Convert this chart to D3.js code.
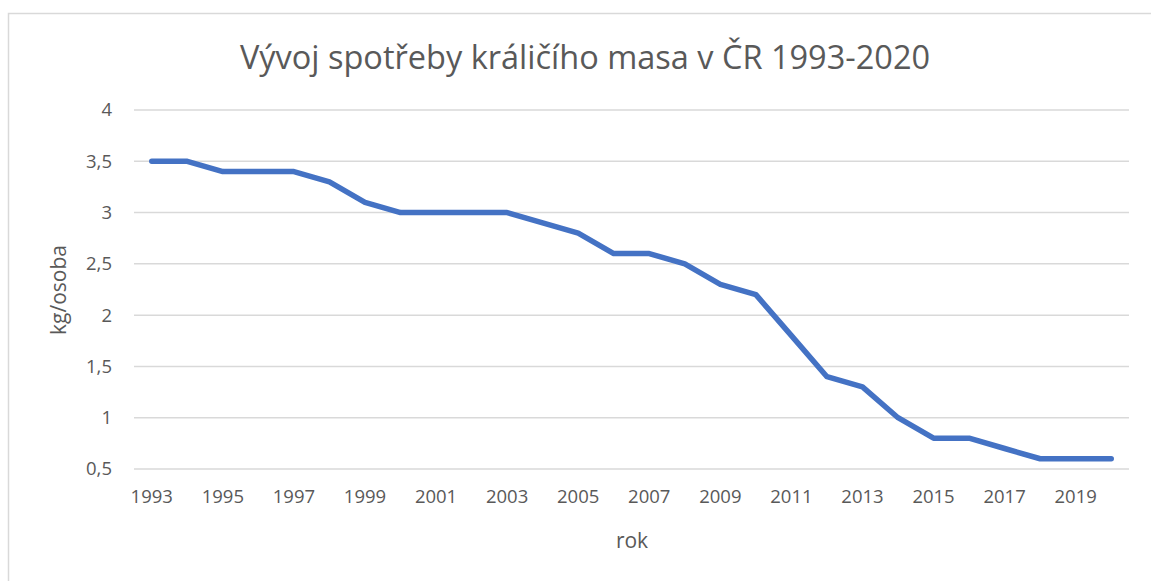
<!DOCTYPE html>
<html>
<head>
<meta charset="utf-8">
<script src="https://cdn.jsdelivr.net/npm/d3@7"></script>
<style>
	body { margin: 0; background: #fff; }
	text { font-family: 'Open Sans', sans-serif; fill: #595959; }
</style>
</head>
<body>
<div id="chart"></div>
<script>
// spotřeba králičího masa, kg/osoba
const years = d3.range(1993, 2021);
const values = [3.5, 3.5, 3.4, 3.4, 3.4, 3.3, 3.1, 3.0, 3.0, 3.0, 3.0, 2.9, 2.8, 2.6,
	2.6, 2.5, 2.3, 2.2, 1.8, 1.4, 1.3, 1.0, 0.8, 0.8, 0.7, 0.6, 0.6, 0.6];
const yTicks = [0.5, 1, 1.5, 2, 2.5, 3, 3.5, 4];

const width = 1151;
const height = 581;
const margin = { top: 110, right: 22, bottom: 112, left: 134 };

const svg = d3.select('#chart').append('svg').attr('width', width).attr('height', height);

// outer frame (only left/top visible in the crop)
svg.append('rect')
	.attr('x', 8.5).attr('y', 13.5)
	.attr('width', width + 20).attr('height', height + 20)
	.attr('fill', 'none').attr('stroke', '#d9d9d9').attr('stroke-width', 1.5);

const x = d3.scalePoint()
	.domain(years)
	.range([margin.left, width - margin.right])
	.padding(0.5);

const y = d3.scaleLinear()
	.domain([0.5, 4])
	.range([height - margin.bottom, margin.top]);

// gridlines
svg.append('g')
	.selectAll('line')
	.data(yTicks)
	.join('line')
	.attr('x1', margin.left)
	.attr('x2', width - margin.right)
	.attr('y1', (d) => y(d))
	.attr('y2', (d) => y(d))
	.attr('stroke', '#d9d9d9')
	.attr('stroke-width', 1.5);

// y tick labels
svg.append('g')
	.selectAll('text')
	.data(yTicks)
	.join('text')
	.attr('x', margin.left - 22)
	.attr('y', (d) => y(d))
	.attr('dy', '0.35em')
	.attr('text-anchor', 'end')
	.attr('font-size', 18.5)
	.text((d) => String(d).replace('.', ','));

// x tick labels, every other year
svg.append('g')
	.selectAll('text')
	.data(years.filter((d, i) => i % 2 === 0))
	.join('text')
	.attr('x', (d) => x(d))
	.attr('y', height - margin.bottom + 28)
	.attr('dy', '0.35em')
	.attr('text-anchor', 'middle')
	.attr('font-size', 18.5)
	.text((d) => d);

// line
const line = d3.line()
	.x((d, i) => x(years[i]))
	.y((d) => y(d));

svg.append('path')
	.datum(values)
	.attr('d', line)
	.attr('fill', 'none')
	.attr('stroke', '#4472c4')
	.attr('stroke-width', 5.5)
	.attr('stroke-linejoin', 'round')
	.attr('stroke-linecap', 'round');

// title
svg.append('text')
	.attr('x', 585)
	.attr('y', 58)
	.attr('dy', '0.35em')
	.attr('text-anchor', 'middle')
	.attr('font-size', 32.5)
	.text('Vývoj spotřeby králičího masa v ČR 1993-2020');

// axis titles
svg.append('text')
	.attr('x', 632)
	.attr('y', 541)
	.attr('dy', '0.35em')
	.attr('text-anchor', 'middle')
	.attr('font-size', 21)
	.text('rok');

svg.append('text')
	.attr('transform', 'translate(59,290) rotate(-90)')
	.attr('dy', '0.35em')
	.attr('text-anchor', 'middle')
	.attr('font-size', 21)
	.text('kg/osoba');
</script>
</body>
</html>
